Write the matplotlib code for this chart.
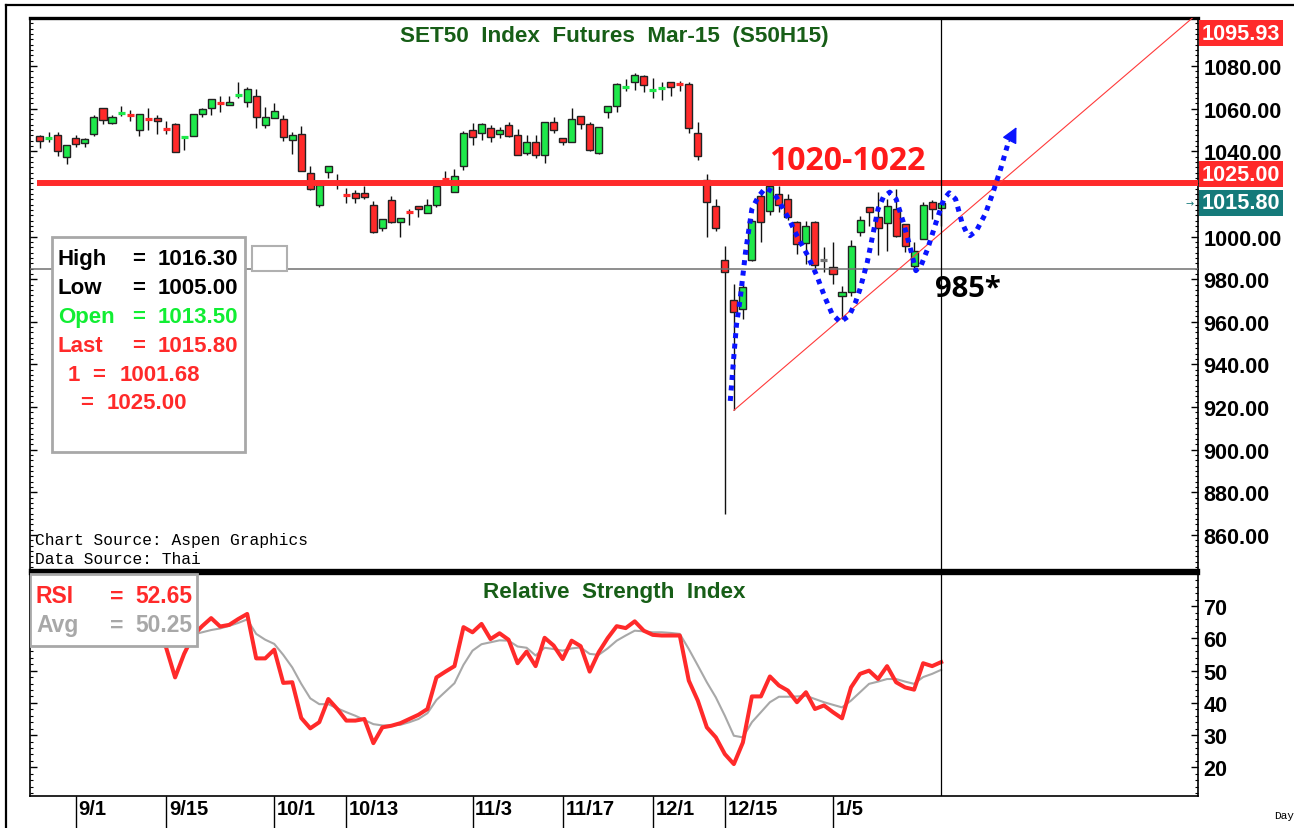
import matplotlib
matplotlib.use('Agg')
import matplotlib.pyplot as plt
from matplotlib.patches import Rectangle
from matplotlib.lines import Line2D
from matplotlib.ticker import MultipleLocator, FixedLocator
from matplotlib.transforms import blended_transform_factory
import numpy as np

# daily OHLC, SET50 futures S50H15
opens = [1047.0, 1046.2, 1047.5, 1037.2, 1046.3, 1043.8, 1048.1, 1060.2, 1053.1, 1057.9,
         1057.2, 1050.2, 1055.8, 1055.8, 1050.6, 1052.7, 1046.5, 1047.0, 1057.4, 1060.3,
         1063.0, 1061.7, 1066.2, 1063.3, 1066.1, 1052.2, 1055.6, 1055.2, 1045.3, 1048.1,
         1029.7, 1015.0, 1030.2, 1025.2, 1019.9, 1020.2, 1020.2, 1014.9, 1004.1, 1017.0,
         1007.0, 1011.6, 1014.1, 1011.1, 1014.6, 1027.2, 1021.1, 1033.0, 1050.2, 1048.6,
         1050.8, 1048.1, 1052.1, 1047.7, 1039.2, 1044.2, 1038.3, 1053.6, 1046.1, 1044.2,
         1056.4, 1052.7, 1039.2, 1058.3, 1061.1, 1070.1, 1072.4, 1075.5, 1068.7, 1069.7,
         1072.7, 1072.0, 1071.7, 1048.6, 1026.6, 1014.5, 989.1, 970.4, 966.0, 989.1,
         1018.9, 1012.1, 1020.0, 1017.6, 1007.0, 997.0, 1007.0, 989.1, 985.6, 972.0,
         973.9, 1002.0, 1013.7, 1009.0, 1006.4, 1012.9, 1005.8, 986.0, 998.9, 1016.1,
         1013.5]
highs = [1047.7, 1049.2, 1049.2, 1042.7, 1047.7, 1046.4, 1057.0, 1060.2, 1057.0, 1061.4,
         1059.4, 1057.4, 1060.2, 1057.0, 1054.4, 1053.3, 1047.0, 1057.4, 1060.2, 1064.7,
         1065.8, 1065.8, 1072.4, 1070.0, 1069.2, 1060.6, 1062.5, 1057.0, 1049.2, 1051.7,
         1033.3, 1024.2, 1033.3, 1029.4, 1022.7, 1021.6, 1023.9, 1016.9, 1008.0, 1018.9,
         1008.6, 1013.0, 1014.1, 1017.4, 1023.6, 1030.6, 1031.7, 1049.7, 1053.3, 1053.3,
         1052.4, 1051.3, 1053.9, 1050.5, 1047.7, 1047.7, 1053.6, 1056.0, 1046.1, 1060.2,
         1056.4, 1053.9, 1051.3, 1061.1, 1071.9, 1073.9, 1076.7, 1075.8, 1074.2, 1072.7,
         1072.7, 1073.1, 1072.4, 1053.9, 1029.4, 1017.4, 995.7, 977.7, 977.7, 1008.3,
         1020.8, 1025.4, 1023.9, 1020.0, 1007.5, 1007.5, 1007.5, 995.0, 997.3, 977.0,
         998.5, 1009.5, 1013.7, 1020.8, 1017.6, 1022.3, 1005.8, 997.3, 1016.1, 1017.3,
         1016.3]
lows = [1041.4, 1044.2, 1038.0, 1033.9, 1041.9, 1042.0, 1047.0, 1052.8, 1052.8, 1056.4,
        1054.4, 1047.0, 1050.2, 1048.1, 1048.1, 1039.5, 1040.8, 1047.0, 1056.0, 1056.9,
        1058.6, 1061.7, 1065.0, 1060.6, 1051.0, 1051.0, 1055.6, 1045.0, 1038.5, 1030.6,
        1021.6, 1013.8, 1027.5, 1022.4, 1015.8, 1015.8, 1017.7, 1001.7, 1002.5, 1006.4,
        1000.0, 1005.2, 1009.1, 1011.1, 1013.8, 1026.8, 1021.1, 1031.0, 1043.0, 1045.5,
        1044.2, 1046.1, 1046.6, 1038.3, 1038.3, 1036.7, 1034.5, 1048.6, 1043.0, 1044.2,
        1050.5, 1040.3, 1038.8, 1055.5, 1058.3, 1068.1, 1068.5, 1067.7, 1064.9, 1064.1,
        1066.1, 1068.1, 1048.6, 1036.1, 1000.0, 1002.8, 869.7, 918.5, 961.3, 988.4,
        997.3, 1010.1, 1011.4, 1007.9, 991.8, 987.1, 984.8, 983.2, 977.7, 961.3,
        972.3, 1000.1, 1004.8, 991.2, 993.4, 999.7, 992.9, 984.0, 998.9, 1008.2,
        1005.0]
closes = [1044.7, 1046.6, 1040.3, 1042.7, 1043.3, 1045.6, 1056.3, 1054.7, 1056.3, 1058.3,
          1056.8, 1057.4, 1054.5, 1054.1, 1050.1, 1039.5, 1046.9, 1057.4, 1059.6, 1064.7,
          1062.6, 1063.3, 1066.6, 1069.2, 1056.3, 1056.1, 1059.1, 1046.6, 1047.7, 1030.6,
          1022.4, 1024.2, 1033.3, 1025.0, 1019.5, 1018.0, 1018.6, 1002.1, 1008.0, 1007.0,
          1008.6, 1011.2, 1012.7, 1015.0, 1023.6, 1026.9, 1028.6, 1048.6, 1046.7, 1052.7,
          1046.6, 1050.2, 1047.0, 1038.3, 1044.5, 1038.3, 1053.6, 1050.2, 1044.2, 1055.2,
          1052.8, 1040.8, 1051.3, 1061.1, 1071.4, 1070.5, 1075.8, 1071.3, 1069.1, 1070.1,
          1070.3, 1071.0, 1050.8, 1038.0, 1016.1, 1003.9, 983.5, 964.5, 976.5, 1007.4,
          1006.7, 1023.9, 1014.8, 1009.0, 996.5, 1004.8, 986.6, 989.1, 982.4, 973.9,
          995.4, 1007.9, 1011.7, 1003.8, 1014.5, 1000.1, 995.7, 993.4, 1014.8, 1012.9,
          1015.8]

# RSI and its average, starting at bar 13
rsi_start = 13
rsi = [61.0, 57.2, 47.9, 55.2, 60.9, 63.8, 66.3, 63.7, 64.2, 66.0,
       67.6, 53.8, 53.8, 56.5, 46.2, 46.4, 35.3, 32.1, 34.0, 41.2,
       38.1, 34.5, 34.5, 35.0, 27.5, 32.4, 32.9, 33.7, 35.0, 36.3,
       38.1, 47.9, 49.7, 51.4, 63.5, 61.9, 64.5, 59.8, 61.6, 59.6,
       52.3, 55.9, 51.4, 60.2, 57.8, 53.6, 59.3, 57.6, 49.7, 55.7,
       60.1, 63.8, 63.2, 65.3, 62.4, 61.1, 60.9, 60.9, 60.9, 46.9,
       40.7, 32.4, 29.3, 24.1, 21.0, 27.7, 42.0, 42.0, 48.2, 45.4,
       43.8, 40.2, 43.3, 38.1, 39.2, 37.1, 35.2, 44.8, 49.0, 50.0,
       47.4, 51.4, 46.4, 44.8, 44.1, 52.3, 51.4, 52.65]
rsi_avg = [60.5, 60.3, 59.8, 60.5, 61.2, 61.9, 62.6, 63.1, 63.9, 64.8,
           65.9, 61.4, 59.6, 58.3, 54.9, 51.0, 45.9, 41.4, 39.6, 39.6,
           38.3, 37.1, 36.0, 34.7, 33.4, 33.0, 33.0, 33.2, 34.0, 35.0,
           36.8, 40.9, 43.5, 46.1, 51.8, 56.2, 58.2, 58.8, 59.4, 59.3,
           57.5, 57.1, 54.7, 57.1, 56.7, 56.2, 56.9, 57.2, 55.2, 54.9,
           56.9, 59.3, 60.9, 62.4, 62.2, 61.9, 61.9, 61.7, 61.4, 56.7,
           51.6, 46.4, 41.7, 36.0, 29.8, 29.3, 34.0, 37.1, 40.2, 41.9,
           41.9, 42.0, 42.2, 41.2, 40.2, 39.4, 38.6, 40.7, 43.3, 45.9,
           46.6, 47.4, 47.4, 46.6, 45.9, 48.0, 49.0, 50.25]

date_pos = [4, 14, 26, 34, 48, 58, 68, 76, 88]
date_labels = ['9/1', '9/15', '10/1', '10/13', '11/3', '11/17', '12/1', '12/15', '1/5']

resistance = 1025.0
support = 985.0
trend_a = (77, 918.5)
trend_b = (100, 1001.68)

# hand drawn projection (bar, price)
path_x = [76.6, 77.0, 77.3, 77.7, 78.3, 79.0, 79.7, 80.5, 81.4, 82.1, 83.1, 84.0, 85.1,
          86.2, 87.1, 87.9, 88.8, 89.8, 90.5, 91.0, 91.8, 92.4, 93.0, 93.6, 94.3, 95.0,
          95.8, 96.6, 97.2, 97.8, 98.5, 99.5, 100.3, 100.9, 101.6, 102.3, 102.8, 103.2,
          103.9, 104.9, 105.7, 106.6, 107.4]
path_y = [922.9, 944.0, 959.0, 970.7, 992.8, 1012.9, 1018.6, 1022.8, 1020.8, 1015.8, 1008.3,
          1000.4, 991.8, 981.7, 971.5, 963.7, 959.9, 962.9, 969.2, 975.4, 987.9, 1000.4,
          1012.9, 1018.6, 1020.8, 1017.6, 1006.7, 994.2, 984.0, 986.7, 994.2, 1007.5,
          1017.6, 1020.5, 1017.6, 1006.7, 1002.0, 1000.4, 1002.6, 1010.6, 1020.0, 1031.7,
          1043.4]
arrow_tip = (108.5, 1052.5)

RED = '#ff2a2a'
GREEN = '#1ee84a'
DKGREEN = '#175e17'
TEAL = '#157a7a'
BOLD = ['Liberation Sans', 'DejaVu Sans']

fig = plt.figure(figsize=(12.94, 8.29), dpi=100)
ax = fig.add_axes([0.02318, 0.31122, 0.90263, 0.66586])
ax2 = fig.add_axes([0.02318, 0.0386, 0.90263, 0.2690], sharex=ax)

x = np.arange(len(closes))
o = np.array(opens)
c = np.array(closes)
body_lo = np.minimum(o, c)
body_h = np.abs(c - o)
thin = body_h < 1.3

ax.vlines(x, lows, highs, color='#111111', lw=1, zorder=2)
for mask, col in [((c > o) & ~thin, GREEN), ((c < o) & ~thin, RED)]:
    ax.bar(x[mask], body_h[mask], bottom=body_lo[mask], width=0.78, color=col,
           edgecolor='#222222', linewidth=1, zorder=3)
thin_cols = [GREEN if cc > oo else (RED if cc < oo else '#777777')
             for oo, cc in zip(o[thin], c[thin])]
ax.hlines((o[thin] + c[thin]) / 2, x[thin] - 0.39, x[thin] + 0.39, colors=thin_cols,
          lw=2.3, zorder=3)

ax.set_xlim(-1.1, 128.5)
ax.set_ylim(843.6, 1102.5)

# levels and trend line
ax.hlines(resistance, -0.3, 128.5, color=RED, lw=4.3, zorder=4)
ax.axhline(support, color='#707070', lw=1.1, zorder=4)
slope = (trend_b[1] - trend_a[1]) / (trend_b[0] - trend_a[0])
ax.plot([trend_a[0], 130], [trend_a[1], trend_a[1] + slope * (130 - trend_a[0])],
        color='#ff3a3a', lw=0.8, zorder=4)
ax.axvline(100, color='black', lw=0.9, zorder=4)
ax2.axvline(100, color='black', lw=0.9, zorder=4)

ax.plot(path_x, path_y, color='#0a14ff', lw=3.6, linestyle=(0, (1, 1.1)),
        solid_capstyle='butt', zorder=5)
ax.annotate('', xy=arrow_tip, xytext=(path_x[-1], path_y[-1]),
            arrowprops=dict(arrowstyle='-|>', color='#0a14ff', lw=1, mutation_scale=24),
            zorder=5)

ax.text(80.9, 1035.5, '1020-1022', color='#ff1a1a', fontsize=23, fontweight='bold',
        family=['Open Sans', 'DejaVu Sans'], ha='left', va='center', zorder=6)
ax.text(99.3, 975.4, '985*', color='black', fontsize=21, fontweight='bold',
        family=['Open Sans', 'DejaVu Sans'], ha='left', va='center', zorder=6)

ax.text(0.5, 0.969, 'SET50  Index  Futures  Mar-15  (S50H15)', transform=ax.transAxes,
        ha='center', va='center', fontsize=16.2, fontweight='bold', color=DKGREEN,
        family=BOLD)
ax.text(0.004, 0.055, 'Chart Source: Aspen Graphics', transform=ax.transAxes,
        fontsize=11.7, family=['Liberation Mono', 'DejaVu Sans Mono'], va='center')
ax.text(0.004, 0.02, 'Data Source: Thai', transform=ax.transAxes,
        fontsize=11.7, family=['Liberation Mono', 'DejaVu Sans Mono'], va='center')


def ax_pt(px, py, top, h):
    return (px - 30) / 1168, 1 - (py - top) / h


# quote box in the price panel
x0, y1 = ax_pt(52, 238, 19, 552)
x1, y0 = ax_pt(245, 453, 19, 552)
ax.add_patch(Rectangle((x0, y0), x1 - x0, y1 - y0, transform=ax.transAxes, fc='white',
                       ec='#a8a8a8', lw=2, zorder=7))
bx0, by1 = ax_pt(252, 247, 19, 552)
bx1, by0 = ax_pt(287, 272, 19, 552)
ax.add_patch(Rectangle((bx0, by0), bx1 - bx0, by1 - by0, transform=ax.transAxes,
                       fc='white', ec='#b0b0b0', lw=1.5, zorder=7))

quote_rows = [('High', '1016.30', 'black', 260, 58, 132, 158),
              ('Low', '1005.00', 'black', 289, 58, 132, 158),
              ('Open', '1013.50', '#11ee33', 318, 58, 132, 158),
              ('Last', '1015.80', RED, 347, 58, 132, 158),
              ('1', '1001.68', RED, 376, 68, 92, 120),
              ('', '1025.00', RED, 404, 68, 80, 107)]
for name, val, col, py, px_n, px_e, px_v in quote_rows:
    for txt, px in [(name, px_n), ('=', px_e), (val, px_v)]:
        tx, ty = ax_pt(px, py, 19, 552)
        ax.text(tx, ty, txt, transform=ax.transAxes, color=col, fontsize=16,
                fontweight='bold', family=BOLD, ha='left', va='center', zorder=8)

# RSI panel
xr = np.arange(rsi_start, rsi_start + len(rsi))
ax2.plot(xr, rsi_avg, color='#a8a8a8', lw=1.5, zorder=3)
ax2.plot(xr, rsi, color='#ff2a2a', lw=2.9, zorder=3)
ax2.set_ylim(11.1, 80.3)

rx0, ry1 = ax_pt(30, 575, 574, 223)
rx1, ry0 = ax_pt(197, 647, 574, 223)
ax2.add_patch(Rectangle((rx0, ry0), rx1 - rx0, ry1 - ry0, transform=ax2.transAxes,
                        fc='white', ec='#a8a8a8', lw=2, zorder=7))
for name, val, col, py in [('RSI', '52.65', RED, 597), ('Avg', '50.25', '#a8a8a8', 626)]:
    for txt, px in [(name, 36), ('=', 110), (val, 135)]:
        tx, ty = ax_pt(px, py, 574, 223)
        ax2.text(tx, ty, txt, transform=ax2.transAxes, color=col, fontsize=16.5,
                 fontweight='bold', family=BOLD, ha='left', va='center', zorder=8)
ax2.text(0.5, 0.919, 'Relative  Strength  Index', transform=ax2.transAxes,
         ha='center', va='center', fontsize=16.2, fontweight='bold', color=DKGREEN,
         family=BOLD)

# axes styling
for a in (ax, ax2):
    for s in a.spines.values():
        s.set_color('black')
        s.set_linewidth(1.2)
    a.yaxis.tick_right()
    a.tick_params(axis='y', which='both', left=True, right=True, labelleft=False,
                  labelright=True, direction='in', pad=4)
    a.tick_params(axis='y', which='major', length=5, width=1)
    a.tick_params(axis='y', which='minor', length=2.5, width=0.8)
ax.spines['top'].set_linewidth(2.4)
ax.spines['bottom'].set_linewidth(2.4)
ax2.spines['top'].set_linewidth(2.4)

price_ticks = [860, 880, 900, 920, 940, 960, 980, 1000, 1040, 1060, 1080]
ax.yaxis.set_major_locator(FixedLocator(price_ticks))
ax.yaxis.set_minor_locator(MultipleLocator(2.5))
ax.set_yticklabels(['%.2f' % v for v in price_ticks])
ax2.yaxis.set_major_locator(FixedLocator([20, 30, 40, 50, 60, 70]))
ax2.yaxis.set_minor_locator(MultipleLocator(2))
ax2.set_yticklabels(['20', '30', '40', '50', '60', '70'])
for lab in ax.get_yticklabels() + ax2.get_yticklabels():
    lab.set_fontsize(15.6)
    lab.set_fontweight('bold')
    lab.set_family(BOLD)

ax.tick_params(axis='x', which='both', bottom=False, top=False, labelbottom=False)
ax2.set_xticks(date_pos)
ax2.tick_params(axis='x', which='both', direction='out', length=24, width=1,
                labelbottom=False, top=False)
xt = blended_transform_factory(ax2.transData, ax2.transAxes)
for p, lab in zip(date_pos, date_labels):
    ax2.text(p + 0.3, -0.058, lab, transform=xt, ha='left', va='center', fontsize=14.5,
             fontweight='bold', family=BOLD, clip_on=False)


def tag(text, y, fc, dy=0):
    ax.annotate(text, xy=(1, y), xycoords=('axes fraction', 'data'), xytext=(2.8, dy),
                textcoords='offset points', ha='left', va='center', fontsize=15.6,
                fontweight='bold', family=BOLD, color='white',
                bbox=dict(boxstyle='square,pad=0.12', fc=fc, ec='none'),
                annotation_clip=False, zorder=9)


tag('1095.93', 1095.93, RED, -1)
tag('1025.00', resistance, RED, 6.6)
tag('1015.80', closes[-1], TEAL, 0)
ax.annotate('\u2192', xy=(1, closes[-1]), xycoords=('axes fraction', 'data'),
            xytext=(-6, 0), textcoords='offset points', ha='center', va='center',
            fontsize=7, color=TEAL, annotation_clip=False)

fig.text(1274 / 1294, 1 - 816 / 829, 'Day', fontsize=8,
         family=['Liberation Mono', 'DejaVu Sans Mono'], ha='left', va='center')

# outer frame
fig.add_artist(Line2D([6 / 1294, 6 / 1294], [0, 1 - 6 / 829], color='black', lw=1.6))
fig.add_artist(Line2D([6 / 1294, 1], [1 - 6 / 829, 1 - 6 / 829], color='black', lw=1.6))

fig.savefig('out.png', dpi=100)
